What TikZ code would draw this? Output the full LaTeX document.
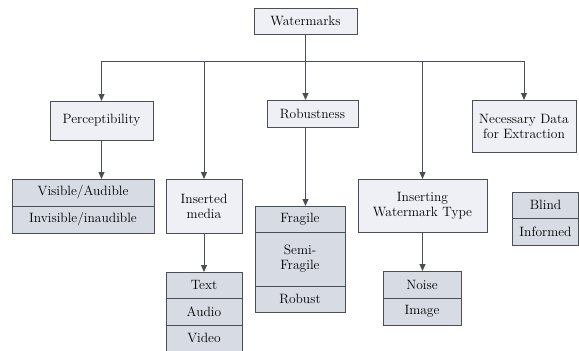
\documentclass[tikz,border=0pt]{standalone}
\usetikzlibrary{arrows.meta,positioning}
\definecolor{linegray}{HTML}{4A4E55}
\definecolor{catfill}{HTML}{EEF0F5}
\definecolor{leaffill}{HTML}{D6DBE4}
\tikzset{
    box/.style={draw=linegray, line width=0.9pt, inner sep=1pt, outer sep=0pt,
                align=center, font=\fontsize{13.5}{15}\selectfont},
    cat/.style={box, fill=catfill},
    leaf/.style={box, fill=leaffill, minimum height=27pt},
    flow/.style={-{Triangle[length=7pt,width=6pt]}, line width=1pt, draw=linegray},
    trunk/.style={line width=1pt, draw=linegray},
}

\begin{document}
\begin{tikzpicture}[x=1pt, y=-1pt]
    \useasboundingbox (0,0) rectangle (579,351);

    % top and first level
    \node[cat, minimum width=103pt, minimum height=26pt] (watermarks) at (305.5,21) {Watermarks};
    \coordinate (bus) at (305.5,61);
    \node[cat, minimum width=103pt, minimum height=39pt] (percep) at (101.5,120.5) {Perceptibility};
    \node[cat, minimum width=76pt, minimum height=54pt] (media) at (204,206) {Inserted\\media};
    \node[cat, minimum width=91pt, minimum height=27pt] (robust) at (312.5,113.5) {Robustness};
    \node[cat, minimum width=129pt, minimum height=53pt] (insert) at (422.5,205.5) {Inserting\\Watermark Type};
    \node[cat, minimum width=104pt, minimum height=52pt] (necdata) at (524,126) {Necessary Data\\for Extraction};

    % leaf stacks
    \node[leaf, minimum width=142pt] (visible) at (83,192.5) {Visible/Audible};
    \node[leaf, minimum width=142pt, below=0pt of visible] (invisible) {Invisible/inaudible};

    \node[leaf, minimum width=76pt, minimum height=26pt] (text) at (204,285) {Text};
    \node[leaf, minimum width=76pt, below=0pt of text] (audio) {Audio};
    \node[leaf, minimum width=76pt, minimum height=26pt, below=0pt of audio] (video) {Video};

    \node[leaf, minimum width=90pt, minimum height=26pt] (fragile) at (300,219) {Fragile};
    \node[leaf, minimum width=90pt, minimum height=54pt, below=0pt of fragile] (semifragile) {Semi-\\Fragile};
    \node[leaf, minimum width=90pt, minimum height=26pt, below=0pt of semifragile] (robustleaf) {Robust};

    \node[leaf, minimum width=78pt] (noise) at (422,284.5) {Noise};
    \node[leaf, minimum width=78pt, below=0pt of noise] (image) {Image};

    \node[leaf, minimum width=66pt, minimum height=26pt] (blind) at (545.5,205) {Blind};
    \node[leaf, minimum width=66pt, below=0pt of blind] (informed) {Informed};

    % connectors
    \draw[trunk] (watermarks.south) -- (bus);
    \draw[flow] (bus) -| (percep.north);
    \draw[flow] (bus) -| (media.north);
    \draw[flow] (bus) -- (bus |- robust.north);
    \draw[flow] (bus) -| (insert.north);
    \draw[flow] (bus) -| (necdata.north);

    \draw[flow] (percep.south) -- (percep.south |- visible.north);
    \draw[flow] (media.south) -- (text.north);
    \draw[flow] (bus |- robust.south) -- (bus |- fragile.north);
    \draw[flow] (insert.south) -- (insert.south |- noise.north);

\end{tikzpicture}
\end{document}
